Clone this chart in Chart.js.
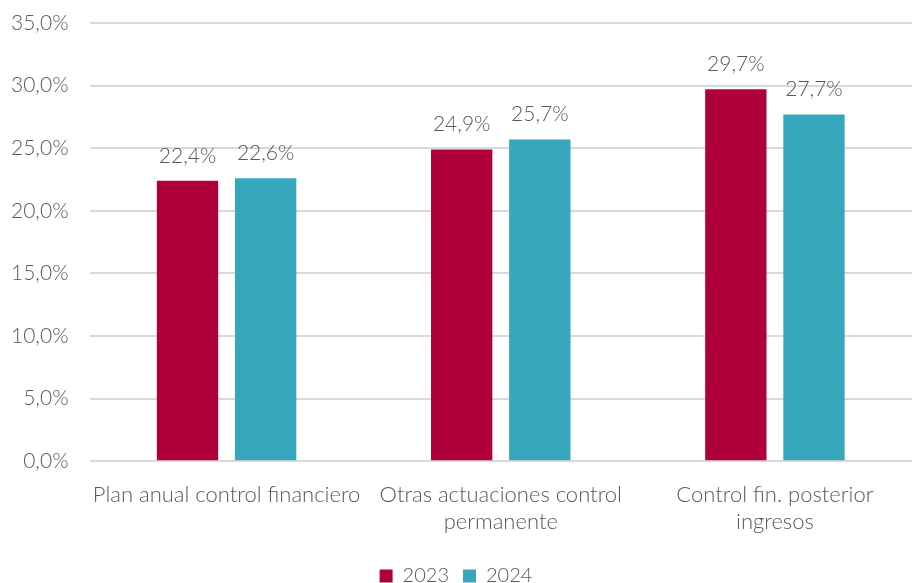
<!DOCTYPE html>
<html>
<head>
<meta charset="utf-8">
<script src="https://cdn.jsdelivr.net/npm/chart.js@4/dist/chart.umd.min.js"></script>
<style>
  html, body { margin: 0; padding: 0; background: #fff; }
  #wrap { width: 912px; height: 583px; }
</style>
</head>
<body>
<div id="wrap"><canvas id="chart"></canvas></div>
<script>
const categories = [
  "Plan anual control financiero",
  ["Otras actuaciones control", "permanente"],
  ["Control fin. posterior", "ingresos"]
];
const values_2023 = [22.4, 24.9, 29.7];
const values_2024 = [22.6, 25.7, 27.7];
const y_ticks = [0, 5, 10, 15, 20, 25, 30, 35];

const font_family = "Lato, 'Open Sans', sans-serif";
const text_color = "#595959";

function fmt(v) {
  return v.toFixed(1).replace(".", ",") + "%";
}

// draws the value above every bar
const bar_labels = {
  id: "bar_labels",
  afterDatasetsDraw(chart) {
    const ctx = chart.ctx;
    ctx.save();
    ctx.font = "300 21px " + font_family;
    ctx.fillStyle = text_color;
    ctx.textAlign = "center";
    ctx.textBaseline = "alphabetic";
    chart.data.datasets.forEach((ds, i) => {
      const meta = chart.getDatasetMeta(i);
      meta.data.forEach((bar, j) => {
        ctx.fillText(fmt(ds.data[j]), bar.x, bar.y - 18);
      });
    });
    ctx.restore();
  }
};

const ctx = document.getElementById("chart").getContext("2d");
new Chart(ctx, {
  type: "bar",
  data: {
    labels: categories,
    datasets: [
      {
        label: "2023",
        data: values_2023,
        backgroundColor: "#B0003C",
        categoryPercentage: 0.57,
        barPercentage: 0.785
      },
      {
        label: "2024",
        data: values_2024,
        backgroundColor: "#36A7BD",
        categoryPercentage: 0.57,
        barPercentage: 0.785
      }
    ]
  },
  options: {
    responsive: true,
    maintainAspectRatio: false,
    animation: false,
    layout: { padding: { top: 23, right: -10, left: -10, bottom: -13 } },
    plugins: {
      legend: {
        position: "bottom",
        labels: {
          boxWidth: 13,
          boxHeight: 13,
          padding: 14,
          color: text_color,
          font: { family: font_family, size: 20, weight: 300 }
        }
      },
      tooltip: { enabled: false }
    },
    scales: {
      y: {
        min: 0,
        max: 35,
        afterBuildTicks: (axis) => {
          axis.ticks = y_ticks.map((v) => ({ value: v }));
        },
        afterFit: (axis) => {
          axis.paddingTop = 12;
        },
        border: { display: false },
        grid: { color: "#D9D9D9", lineWidth: 2, drawTicks: false },
        ticks: {
          padding: 21,
          color: text_color,
          font: { family: font_family, size: 21, weight: 300 },
          callback: (v) => fmt(v)
        }
      },
      x: {
        border: { display: false },
        grid: { display: false, drawTicks: false },
        afterFit: (axis) => {
          axis.paddingLeft = 0;
          axis.paddingRight = 0;
          axis.height -= 3;
        },
        ticks: {
          autoSkip: false,
          padding: 20,
          color: text_color,
          maxRotation: 0,
          font: { family: font_family, size: 22, weight: 300, lineHeight: 1.22 }
        }
      }
    }
  },
  plugins: [bar_labels]
});
</script>
</body>
</html>
